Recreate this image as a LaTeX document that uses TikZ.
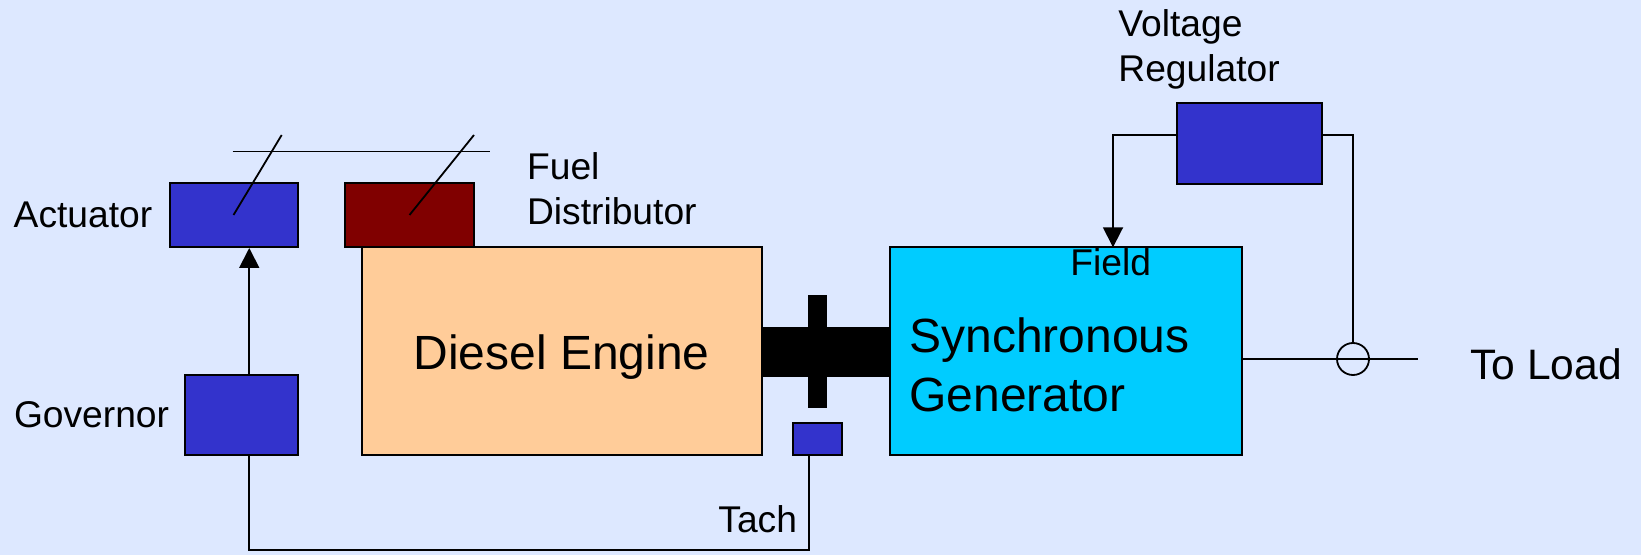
\documentclass[tikz,border=0pt]{standalone}
\usepackage{fontspec}
\setmainfont{Liberation Sans}
\usetikzlibrary{arrows.meta}

\definecolor{bgblue}{RGB}{221,232,255}
\definecolor{ctrlblue}{RGB}{51,51,204}
\definecolor{fuelred}{RGB}{128,0,0}
\definecolor{enginetan}{RGB}{255,204,153}
\definecolor{gencyan}{RGB}{0,204,255}

\tikzset{
  block/.style={draw=black, line width=1pt, inner sep=0pt},
  wire/.style={line width=0.9pt},
  arr/.style={wire, -{Triangle[length=10pt,width=10pt]}},
  small/.style={font=\fontsize{18.6}{22.5}\selectfont, inner sep=0pt, align=left},
  big/.style={font=\fontsize{24}{29.3}\selectfont, inner sep=0pt, align=left}
}

\begin{document}
\begin{tikzpicture}[x=0.5pt,y=-0.5pt]
  \fill[bgblue] (0,0) rectangle (1641,555);
  \useasboundingbox (0,0) rectangle (1641,555);

  % Shaft
  \fill (761,326.7) rectangle (890,376.7);
  \fill (808,295) rectangle (827,408);

  % Blocks
  \node[block, fill=ctrlblue, minimum width=64pt, minimum height=32pt] (act) at (233.5,215) {};
  \node[block, fill=fuelred, minimum width=64.5pt, minimum height=32pt] (fuel) at (409.5,215) {};
  \node[block, fill=enginetan, minimum width=200pt, minimum height=103.5pt] (engine) at (561.5,351) {};
  \node[block, fill=ctrlblue, minimum width=56.25pt, minimum height=40pt] (gov) at (241.25,415) {};
  \node[block, fill=ctrlblue, minimum width=24.65pt, minimum height=16pt] (tach) at (817.35,439) {};
  \node[block, fill=gencyan, minimum width=175.85pt, minimum height=103.5pt] (gen) at (1065.85,351) {};
  \node[block, fill=ctrlblue, minimum width=72.35pt, minimum height=40.5pt] (vr) at (1249.35,143.5) {};
  \node[draw, wire, circle, minimum size=16pt, inner sep=0pt] (sense) at (1353,359) {};

  % Throttle linkage
  \draw[line width=0.75pt] (232.7,151.3) -- (490,151.3);
  \foreach \b/\tx in {act/281.7, fuel/474}
    \draw[wire] (\b.center) -- (\tx,135);

  % Speed loop
  \coordinate (tachbend) at (809,550);
  \draw[arr] ([xshift=4pt]gov.north) -- ([xshift=4pt]gov.north |- act.south);
  \draw[wire] ([xshift=4pt]gov.south) |- (tachbend) -- (tachbend |- tach.south);

  % Voltage loop
  \coordinate (fieldin) at (1113,247.3);
  \coordinate (loadend) at (1418,359);
  \draw[arr] ([yshift=4.25pt]vr.west) -| (fieldin);
  \draw[wire] ([yshift=4.25pt]vr.east) -| (sense.north);
  \draw[wire] (gen.east |- sense.center) -- (loadend);

  % Labels
  \node[small, anchor=base west] (actlabel) at (13.3,228) {Actuator};
  \node[small, anchor=base west] (govlabel) at (13.6,427) {Governor};
  \node[small, anchor=base west] (fuellabel) at (526.7,225) {Fuel\\Distributor};
  \node[small, anchor=base west] (vrlabel) at (1118,81.7) {Voltage\\Regulator};
  \node[small, anchor=base west] (fieldlabel) at (1070,276) {Field};
  \node[small, anchor=base west] (tachlabel) at (718,532) {Tach};
  \node[font=\fontsize{21.3}{25}\selectfont, inner sep=0pt, anchor=base west] (loadlabel) at (1470,379.3) {To Load};
  \node[big, anchor=base] (englabel) at (561.5,369.5) {Diesel Engine};
  \node[big, anchor=base west] (genlabel) at (909,411.3) {Synchronous\\Generator};
\end{tikzpicture}
\end{document}
